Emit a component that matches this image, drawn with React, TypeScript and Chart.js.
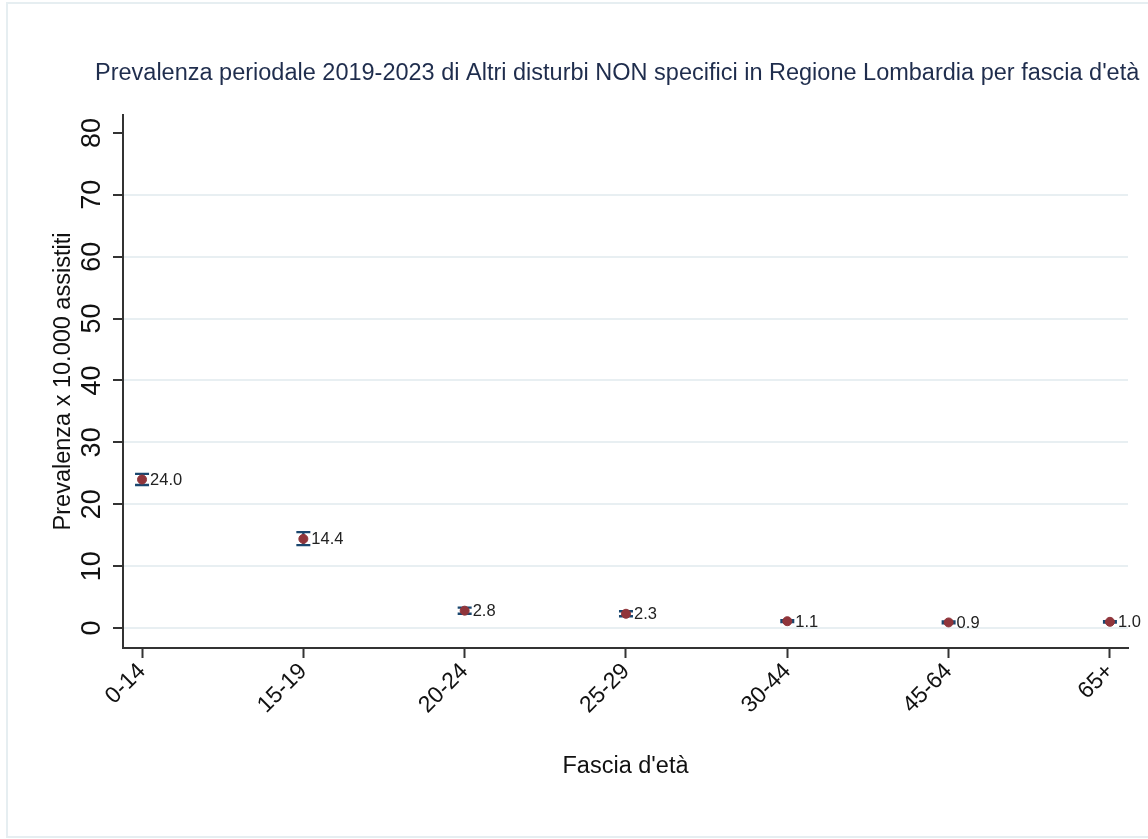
import React, { useEffect, useRef } from "react";
import { Chart, registerables } from "chart.js";

Chart.register(...registerables);

const chartTitle =
  "Prevalenza periodale 2019-2023 di Altri disturbi NON specifici in Regione Lombardia per fascia d'età";
const xAxisTitle = "Fascia d'età";
const yAxisTitle = "Prevalenza x 10.000 assistiti";

const categories = ["0-14", "15-19", "20-24", "25-29", "30-44", "45-64", "65+"];
const prevalence = [24.0, 14.4, 2.8, 2.3, 1.1, 0.9, 1.0];
const ciLower = [23.1, 13.4, 2.3, 1.9, 0.95, 0.75, 0.9];
const ciUpper = [24.9, 15.5, 3.3, 2.7, 1.25, 1.05, 1.1];
const yTicks = [0, 10, 20, 30, 40, 50, 60, 70, 80];

const FONT = "'Liberation Sans', Arial, sans-serif";
const NAVY = "#1a476f";
const MAROON = "#90353b";
const AXIS = "#333333";
const GRID = "#e8eff2";

const framePlugin = {
  id: "frame",
  beforeDraw(chart: any) {
    const ctx = chart.ctx;
    ctx.save();
    ctx.fillStyle = "#ffffff";
    ctx.fillRect(0, 0, chart.width, chart.height);
    ctx.strokeStyle = "#e6eef1";
    ctx.lineWidth = 2;
    ctx.strokeRect(7, 3, chart.width + 50, chart.height - 5);
    ctx.restore();
  },
};

const titlePlugin = {
  id: "leftTitle",
  afterDraw(chart: any) {
    const ctx = chart.ctx;
    ctx.save();
    ctx.font = `23.5px ${FONT}`;
    ctx.fillStyle = "#1f2d4d";
    ctx.textAlign = "left";
    ctx.textBaseline = "alphabetic";
    ctx.fillText(chartTitle, 95, 80);
    ctx.restore();
  },
};

const yLabelPlugin = {
  id: "yRotLabels",
  afterDraw(chart: any) {
    const ctx = chart.ctx;
    const ys = chart.scales.y;
    ctx.save();
    ctx.font = `27px ${FONT}`;
    ctx.fillStyle = "#111111";
    ctx.textAlign = "center";
    ctx.textBaseline = "alphabetic";
    yTicks.forEach((v) => {
      const py = ys.getPixelForValue(v);
      ctx.save();
      ctx.translate(100, py);
      ctx.rotate(-Math.PI / 2);
      ctx.fillText(String(v), 0, 0);
      ctx.restore();
    });
    ctx.restore();
  },
};

const errorBarPlugin = {
  id: "errorBars",
  beforeDatasetsDraw(chart: any) {
    const ctx = chart.ctx;
    const xs = chart.scales.x;
    const ys = chart.scales.y;
    ctx.save();
    ctx.strokeStyle = NAVY;
    ctx.lineWidth = 2.4;
    categories.forEach((_, i) => {
      const px = xs.getPixelForValue(i);
      const pLo = ys.getPixelForValue(ciLower[i]);
      const pHi = ys.getPixelForValue(ciUpper[i]);
      ctx.beginPath();
      ctx.moveTo(px, pLo);
      ctx.lineTo(px, pHi);
      ctx.moveTo(px - 7, pLo);
      ctx.lineTo(px + 7, pLo);
      ctx.moveTo(px - 7, pHi);
      ctx.lineTo(px + 7, pHi);
      ctx.stroke();
    });
    ctx.restore();
  },
  afterDatasetsDraw(chart: any) {
    const ctx = chart.ctx;
    const xs = chart.scales.x;
    const ys = chart.scales.y;
    ctx.save();
    ctx.font = `16.5px ${FONT}`;
    ctx.fillStyle = "#222222";
    ctx.textAlign = "left";
    ctx.textBaseline = "middle";
    prevalence.forEach((v, i) => {
      const px = xs.getPixelForValue(i);
      const py = ys.getPixelForValue(v);
      ctx.fillText(v.toFixed(1), px + 8, py + 1);
    });
    ctx.restore();
  },
};

export default function App() {
  const canvasRef = useRef<HTMLCanvasElement | null>(null);

  useEffect(() => {
    if (!canvasRef.current) return;
    const chart = new Chart(canvasRef.current, {
      type: "scatter",
      data: {
        datasets: [
          {
            data: prevalence.map((v, i) => ({ x: i, y: v })),
            backgroundColor: MAROON,
            borderColor: MAROON,
            pointRadius: 4.5,
            pointHoverRadius: 4.5,
            showLine: false,
          },
        ],
      },
      options: {
        responsive: false,
        animation: false,
        events: [],
        layout: { padding: { left: 0, top: 115, right: 20, bottom: 0 } },
        plugins: {
          legend: { display: false },
          tooltip: { enabled: false },
          title: { display: false },
        },
        scales: {
          x: {
            type: "linear",
            position: "bottom",
            min: -0.118,
            max: 6.112,
            afterBuildTicks: (axis: any) => {
              axis.ticks = categories.map((_, i) => ({ value: i }));
            },
            afterFit: (axis: any) => {
              axis.height = 191;
            },
            ticks: {
              autoSkip: false,
              minRotation: 45,
              maxRotation: 45,
              padding: 0,
              color: "#111111",
              font: { family: FONT, size: 23 },
              callback: (v: any) => categories[Number(v)] ?? "",
            },
            grid: {
              drawOnChartArea: false,
              drawTicks: true,
              tickLength: 10,
              tickColor: AXIS,
              tickWidth: 2,
            },
            border: { display: true, color: AXIS, width: 2 },
            title: {
              display: true,
              text: xAxisTitle,
              color: "#111111",
              font: { family: FONT, size: 23.5 },
              padding: { top: 0, bottom: 58 },
            },
          },
          y: {
            type: "linear",
            position: "left",
            min: -3.23,
            max: 82.9,
            afterBuildTicks: (axis: any) => {
              axis.ticks = yTicks.map((v) => ({ value: v }));
            },
            afterFit: (axis: any) => {
              axis.width = 123;
            },
            ticks: { display: false },
            grid: {
              drawOnChartArea: true,
              drawTicks: true,
              tickLength: 10,
              tickColor: AXIS,
              tickWidth: 2,
              lineWidth: 2,
              color: (c: any) =>
                c.tick && c.tick.value === 80 ? "rgba(0,0,0,0)" : GRID,
            },
            border: { display: true, color: AXIS, width: 2 },
            title: {
              display: true,
              text: yAxisTitle,
              color: "#111111",
              font: { family: FONT, size: 23.5 },
              padding: { top: 49, bottom: 0 },
            },
          },
        },
      },
      plugins: [framePlugin, titlePlugin, yLabelPlugin, errorBarPlugin],
    } as any);
    return () => chart.destroy();
  }, []);

  return (
    <div
      style={{
        position: "fixed",
        left: 0,
        top: 0,
        width: 1148,
        height: 839,
        background: "#ffffff",
      }}
    >
      <canvas ref={canvasRef} width={1148} height={839} />
    </div>
  );
}
